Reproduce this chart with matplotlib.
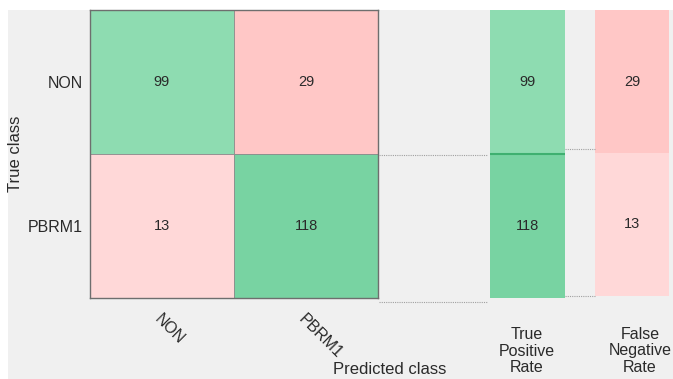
import numpy as np
import matplotlib
matplotlib.use("Agg")
import matplotlib.pyplot as plt
from matplotlib.colors import LinearSegmentedColormap, Normalize
from matplotlib.lines import Line2D
from matplotlib.patches import Rectangle

# データ
CLASSES = ["NON", "PBRM1"]
COUNTS = [[99, 29],
          [13, 118]]
TPR_VALUES = [99, 118]
FNR_VALUES = [29, 13]

W, H = 673, 379
BG = "#f0f0f0"
TXT = "#2a2a2a"

plt.rcParams['font.family'] = ['Liberation Sans', 'DejaVu Sans']

green_cmap = LinearSegmentedColormap.from_list("g", ["#8edcb1", "#78d3a2"])
red_cmap = LinearSegmentedColormap.from_list("r", ["#ffd8d8", "#ffc7c6"])


def px_axes(fig, x0, y0, x1, y1):
    # ピクセル座標(左上原点)からaxesを作る
    return fig.add_axes([x0 / W, 1 - y1 / H, (x1 - x0) / W, (y1 - y0) / H])


def cell_colors(values, cmap):
    norm = Normalize(min(values), max(values))
    return [cmap(norm(v)) for v in values]


fig = plt.figure(figsize=(W / 100, H / 100), dpi=100, facecolor="white")
fig.add_artist(Rectangle((8 / W, 0), 1, 1 - 10 / H, transform=fig.transFigure,
                         facecolor=BG, edgecolor="none", zorder=-10))

# 混同行列
ax = px_axes(fig, 90, 10, 378, 298)
counts = np.array(COUNTS)
diag = [counts[i, i] for i in range(len(CLASSES))]
off = [counts[i, j] for i in range(len(CLASSES)) for j in range(len(CLASSES)) if i != j]
gcols = dict(zip(diag, cell_colors(diag, green_cmap)))
rcols = dict(zip(off, cell_colors(off, red_cmap)))
for i in range(len(CLASSES)):
    for j in range(len(CLASSES)):
        v = counts[i, j]
        c = gcols[v] if i == j else rcols[v]
        ax.add_patch(Rectangle((j, i), 1, 1, facecolor=c, edgecolor="#8c8c8c", linewidth=0.6))
        ax.text(j + 0.5, i + 0.5, str(v), ha="center", va="center", fontsize=10.5, color=TXT)
ax.set_xlim(0, 2)
ax.set_ylim(2, 0)
ax.set_xticks([0.5, 1.5])
ax.set_xticklabels(CLASSES, rotation=-45, ha="left", rotation_mode="anchor", fontsize=11.5, color=TXT)
ax.set_yticks([0.5, 1.5])
ax.set_yticklabels(CLASSES, fontsize=11.5, color=TXT)
ax.tick_params(axis="y", length=0, pad=5)
ax.tick_params(axis="x", length=0, pad=10)
for s in ax.spines.values():
    s.set_color("#6e6e6e")
    s.set_linewidth(1.0)
ax.set_ylabel("True class", fontsize=12, color=TXT)
ax.yaxis.set_label_coords(-67 / 288, 0.5)

# True Positive Rate
ax_t = px_axes(fig, 490, 10, 565, 298)
tcols = cell_colors(TPR_VALUES, green_cmap)
for i, v in enumerate(TPR_VALUES):
    ax_t.add_patch(Rectangle((0, i), 1, 1, facecolor=tcols[i], edgecolor="none"))
    ax_t.text(0.5, i + 0.5, str(v), ha="center", va="center", fontsize=10.5, color=TXT)
ax_t.axhline(1, color="#3fb070", linewidth=1.5)
ax_t.set_xlim(0, 1)
ax_t.set_ylim(2, 0)
ax_t.axis("off")

# False Negative Rate
ax_f = px_axes(fig, 595, 10, 669, 296)
fcols = cell_colors(FNR_VALUES, red_cmap)
for i, v in enumerate(FNR_VALUES):
    ax_f.add_patch(Rectangle((0, i), 1, 1, facecolor=fcols[i], edgecolor="none"))
    ax_f.text(0.5, i + 0.5, str(v), ha="center", va="center", fontsize=10.5, color=TXT)
ax_f.set_xlim(0, 1)
ax_f.set_ylim(2, 0)
ax_f.axis("off")

# 点線
for (x0, x1, y) in [(379, 487, 155), (379, 487, 302), (565, 595, 149), (565, 595, 296)]:
    fig.add_artist(Line2D([x0 / W, x1 / W], [1 - y / H, 1 - y / H], transform=fig.transFigure,
                          color="#a0a0a0", linestyle=(0, (1, 1)), linewidth=0.8))

fig.text(390 / W, 1 - 370 / H, "Predicted class", ha="center", va="center", fontsize=12, color=TXT)
fig.text(527 / W, 1 - 351 / H, "True\nPositive\nRate", ha="center", va="center", fontsize=11.5,
         color=TXT, linespacing=1.15)
fig.text(640 / W, 1 - 351 / H, "False\nNegative\nRate", ha="center", va="center", fontsize=11.5,
         color=TXT, linespacing=1.15)

fig.savefig("out.png", dpi=100, facecolor=fig.get_facecolor())
